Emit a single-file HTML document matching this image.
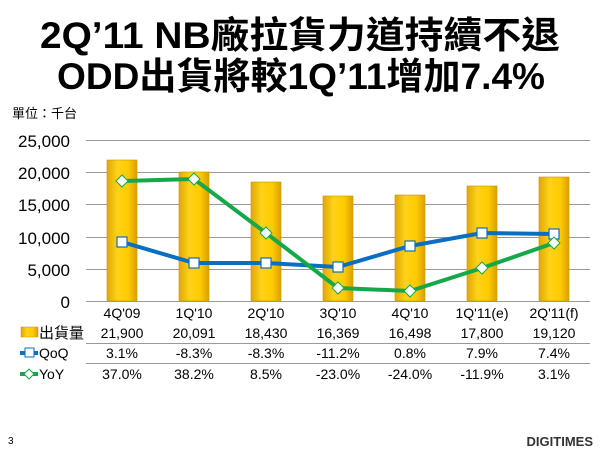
<!DOCTYPE html>
<html><head><meta charset="utf-8"><style>
body{margin:0;width:600px;height:450px;background:#fff;overflow:hidden;font-family:"Liberation Sans","Noto Sans CJK TC",sans-serif}
</style></head><body>
<svg width="600" height="450" xmlns="http://www.w3.org/2000/svg" font-family="Liberation Sans, Noto Sans CJK TC, sans-serif">
<defs>
<linearGradient id="g" x1="0" x2="1" y1="0" y2="0">
<stop offset="0" stop-color="#e0a800"/><stop offset="0.35" stop-color="#ffd21a"/><stop offset="0.7" stop-color="#ffcc00"/><stop offset="1" stop-color="#d9a000"/>
</linearGradient>
</defs>
<text x="40" y="48" font-size="37" font-weight="bold" textLength="520" lengthAdjust="spacingAndGlyphs">2Q’11 NB廠拉貨力道持續不退</text>
<text x="57" y="89" font-size="37" font-weight="bold" textLength="488" lengthAdjust="spacingAndGlyphs">ODD出貨將較1Q’11增加7.4%</text>
<text x="12" y="118" font-size="13">單位：千台</text>
<g stroke="#999" stroke-width="1">
<line x1="86" x2="590" y1="140.5" y2="140.5"/><line x1="86" x2="590" y1="172.5" y2="172.5"/>
<line x1="86" x2="590" y1="204.5" y2="204.5"/><line x1="86" x2="590" y1="237.5" y2="237.5"/>
<line x1="86" x2="590" y1="269.5" y2="269.5"/><line x1="86" x2="590" y1="301.5" y2="301.5"/>
<line x1="86" x2="590" y1="343.5" y2="343.5"/><line x1="86" x2="590" y1="363.5" y2="363.5"/>
</g>
<g font-size="17" text-anchor="end">
<text x="70" y="147">25,000</text><text x="70" y="179">20,000</text><text x="70" y="211">15,000</text>
<text x="70" y="244">10,000</text><text x="70" y="276">5,000</text><text x="70" y="308">0</text>
</g>
<g fill="url(#g)" stroke="#c99400" stroke-width="0.6">
<rect x="107" y="160" width="30" height="141"/><rect x="179" y="172" width="30" height="129"/>
<rect x="251" y="182" width="30" height="119"/><rect x="323" y="196" width="30" height="105"/>
<rect x="395" y="195" width="30" height="106"/><rect x="467" y="186" width="30" height="115"/>
<rect x="539" y="177" width="30" height="124"/>
</g>
<polyline fill="none" stroke="#0a6fc2" stroke-width="4" points="122,242 194,263 266,263 338,267 410,246 482,233 554,234"/>
<polyline fill="none" stroke="#15a84a" stroke-width="4" points="122,181 194,179 266,233 338,288 410,291 482,268 554,243"/>
<g fill="#fff" stroke="#0a6fc2" stroke-width="1.2">
<rect x="117" y="237" width="10" height="10"/><rect x="189" y="258" width="10" height="10"/><rect x="261" y="258" width="10" height="10"/>
<rect x="333" y="262" width="10" height="10"/><rect x="405" y="241" width="10" height="10"/><rect x="477" y="228" width="10" height="10"/><rect x="549" y="229" width="10" height="10"/>
</g>
<g fill="#fff" stroke="#15a84a" stroke-width="1">
<path d="M122,175l6,6-6,6-6-6z"/><path d="M194,173l6,6-6,6-6-6z"/><path d="M266,227l6,6-6,6-6-6z"/>
<path d="M338,282l6,6-6,6-6-6z"/><path d="M410,285l6,6-6,6-6-6z"/><path d="M482,262l6,6-6,6-6-6z"/><path d="M554,237l6,6-6,6-6-6z"/>
</g>
<g font-size="14" text-anchor="middle">
<text x="122" y="318">4Q'09</text><text x="194" y="318">1Q'10</text><text x="266" y="318">2Q'10</text><text x="338" y="318">3Q'10</text><text x="410" y="318">4Q'10</text><text x="482" y="318">1Q'11(e)</text><text x="554" y="318">2Q'11(f)</text>
<text x="122" y="338">21,900</text><text x="194" y="338">20,091</text><text x="266" y="338">18,430</text><text x="338" y="338">16,369</text><text x="410" y="338">16,498</text><text x="482" y="338">17,800</text><text x="554" y="338">19,120</text>
<text x="122" y="358">3.1%</text><text x="194" y="358">-8.3%</text><text x="266" y="358">-8.3%</text><text x="338" y="358">-11.2%</text><text x="410" y="358">0.8%</text><text x="482" y="358">7.9%</text><text x="554" y="358">7.4%</text>
<text x="122" y="379">37.0%</text><text x="194" y="379">38.2%</text><text x="266" y="379">8.5%</text><text x="338" y="379">-23.0%</text><text x="410" y="379">-24.0%</text><text x="482" y="379">-11.9%</text><text x="554" y="379">3.1%</text>
</g>
<rect x="21" y="327" width="17" height="10" fill="url(#g)" stroke="#c99400" stroke-width="0.5"/>
<text x="39" y="338" font-size="15">出貨量</text>
<line x1="20" x2="38" y1="353" y2="353" stroke="#0a6fc2" stroke-width="4"/>
<rect x="25" y="348" width="9" height="9" fill="#fff" stroke="#0a6fc2"/>
<text x="39" y="358" font-size="14">QoQ</text>
<line x1="20" x2="38" y1="374" y2="374" stroke="#15a84a" stroke-width="4"/>
<path d="M29,369l5,5-5,5-5-5z" fill="#fff" stroke="#15a84a"/>
<text x="39" y="379" font-size="14">YoY</text>
<text x="8" y="444" font-size="10">3</text>
<text x="593" y="446" font-size="13" font-weight="bold" text-anchor="end" fill="#333">DIGITIMES</text>
</svg>
</body></html>
